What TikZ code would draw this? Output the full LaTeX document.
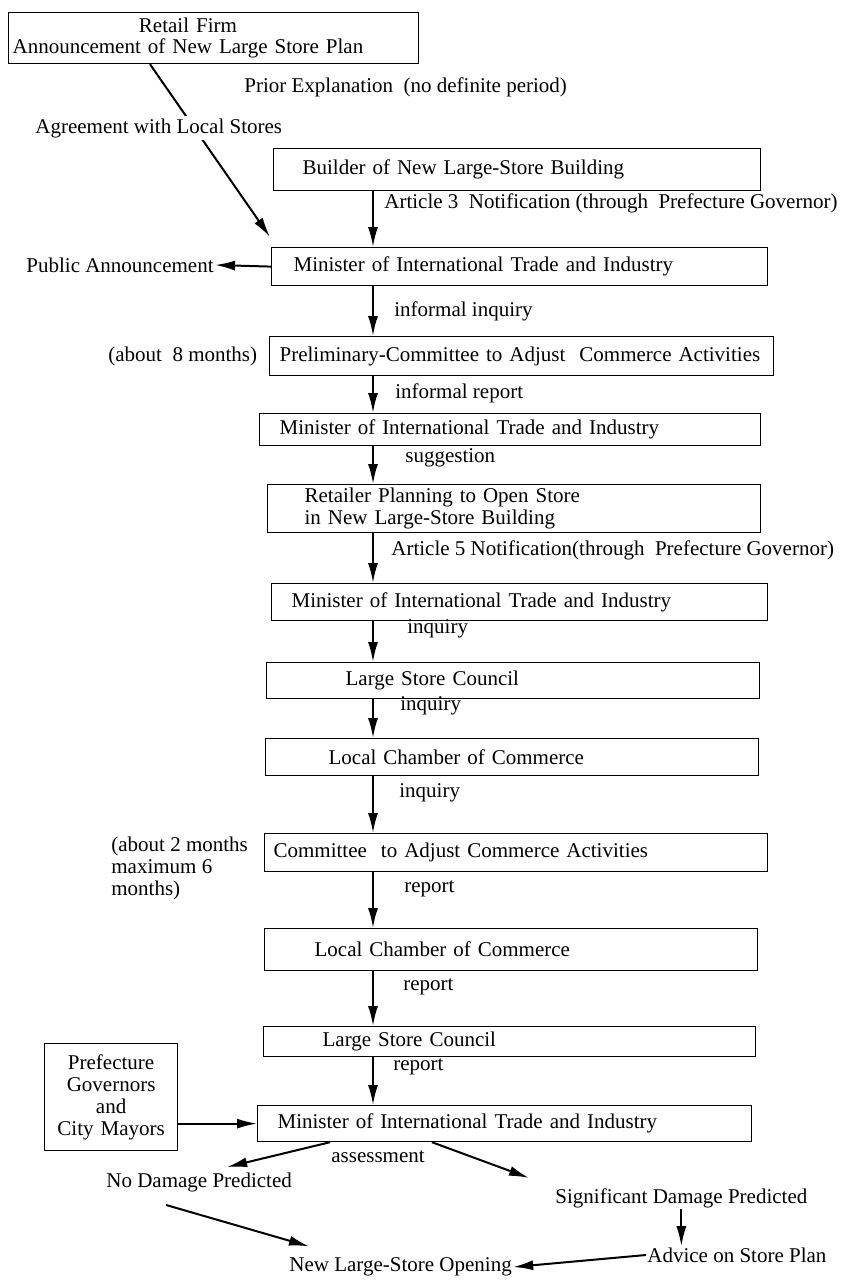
\documentclass[tikz,border=0pt]{standalone}
\usepackage{fontspec}
\setmainfont{Liberation Serif}
\usetikzlibrary{arrows.meta}
\usetikzlibrary{calc}

\begin{document}
\begin{tikzpicture}[x=1pt, y=-1pt, thick,
    every node/.style={font=\fontsize{21}{22}\selectfont},
    box/.style={draw, line width=1.2pt, anchor=north west, align=left, inner ysep=0pt},
    lbl/.style={anchor=west, inner sep=1pt},
    arr/.style={line width=2pt, -{Latex[length=20pt, width=10pt]}}]
  \useasboundingbox (0,0) rectangle (859,1280);
  \coordinate (spine) at (373,0);

  \node[box, inner xsep=4pt, text width=402pt, minimum height=51pt] (firm) at (8,12)
    {\begin{tabular}{@{}c@{}}Retail Firm\\[-1pt]Announcement of New Large Store Plan\end{tabular}};
  \node[box, inner xsep=29pt, text width=429pt, minimum height=42pt] (builder) at (273,148) {Builder of New Large-Store Building};
  \node[box, inner xsep=22pt, text width=452pt, minimum height=38pt] (min1) at (271,247) {Minister of International Trade and Industry};
  \node[box, inner xsep=10pt, text width=484pt, minimum height=39pt] (prelim) at (269,336) {Preliminary-Committee to Adjust~~Commerce Activities};
  \node[box, inner xsep=20pt, text width=461pt, minimum height=32pt] (min2) at (259,413) {Minister of International Trade and Industry};
  \node[box, inner xsep=37pt, text width=419pt, minimum height=48pt] (retailer) at (267,484) {Retailer Planning to Open Store\\in New Large-Store Building};
  \node[box, inner xsep=20pt, text width=456pt, minimum height=37pt] (min3) at (271,583) {Minister of International Trade and Industry};
  \node[box, inner xsep=79pt, text width=335pt, minimum height=36pt] (lsc1) at (266,662) {Large Store Council};
  \node[box, inner xsep=63pt, text width=367pt, minimum height=37pt] (lcc1) at (265,738) {Local Chamber of Commerce};
  \node[box, inner xsep=9pt, text width=485pt, minimum height=38pt] (committee) at (264,833) {Committee~~to Adjust Commerce Activities};
  \node[box, inner xsep=50pt, text width=393pt, minimum height=42pt] (lcc2) at (264,928) {Local Chamber of Commerce};
  \node[box, inner xsep=59pt, text width=374pt, minimum height=30pt] (lsc2) at (263,1026) {Large Store Council};
  \node[box, inner xsep=20pt, text width=454pt, minimum height=36pt] (min4) at (257,1105) {Minister of International Trade and Industry};
  \node[box, inner xsep=4pt, text width=125pt, minimum height=107pt, align=center] (pref) at (44,1043) {Prefecture\\Governors\\and\\City Mayors};

  \node[lbl] (prior) at (243,87) {Prior Explanation~~(no definite period)};
  \node[lbl] (art3) at (383,203) {Article 3~~Notification (through~~Prefecture Governor)};
  \node[lbl] (pub) at (25,265) {Public Announcement};
  \node[lbl] (infinq) at (393,311) {informal inquiry};
  \node[lbl] (months8) at (107,356) {(about~~8 months)};
  \node[lbl] (infrep) at (394,393) {informal report};
  \node[lbl] (sugg) at (404,458) {suggestion};
  \node[lbl] (art5) at (390,550) {Article 5 Notification(through~~Prefecture Governor)};
  \node[lbl] (inq1) at (406,629) {inquiry};
  \node[lbl] (inq2) at (399,706) {inquiry};
  \node[lbl] (inq3) at (398,793) {inquiry};
  \node[lbl, align=left] (months2) at (110,868) {(about 2 months\\maximum 6\\months)};
  \node[lbl] (rep1) at (403,889) {report};
  \node[lbl] (rep2) at (402,987) {report};
  \node[lbl] (rep3) at (392,1067) {report};
  \node[lbl] (assess) at (330,1157) {assessment};
  \node[lbl] (nodmg) at (105,1182) {No Damage Predicted};
  \node[lbl] (sigdmg) at (554,1198) {Significant Damage Predicted};
  \node[lbl] (advice) at (646,1255) {Advice on Store Plan};
  \node[lbl] (opening) at (288,1267) {New Large-Store Opening};

  \draw[arr] ($(firm.south west)+(142,0)$) -- ($(min1.north west)+(-1,-10)$);
  \node[lbl, fill=white, inner sep=2pt] (agree) at (33,128) {Agreement with Local Stores};

  \draw[arr] (builder.south -| spine) -- (min1.north -| spine);
  \draw[arr] (min1.west) -- (pub.east);
  \draw[arr] (min1.south -| spine) -- (prelim.north -| spine);
  \draw[arr] (prelim.south -| spine) -- (min2.north -| spine);
  \draw[arr] (min2.south -| spine) -- (retailer.north -| spine);
  \draw[arr] (retailer.south -| spine) -- (min3.north -| spine);
  \draw[arr] (min3.south -| spine) -- (lsc1.north -| spine);
  \draw[arr] (lsc1.south -| spine) -- (lcc1.north -| spine);
  \draw[arr] (lcc1.south -| spine) -- (committee.north -| spine);
  \draw[arr] (committee.south -| spine) -- (lcc2.north -| spine);
  \draw[arr] (lcc2.south -| spine) -- (lsc2.north -| spine);
  \draw[arr] (lsc2.south -| spine) -- (min4.north -| spine);
  \draw[arr] (pref.east |- min4.west) -- (min4.west);
  \draw[arr] ($(min4.south west)+(73,0)$) -- ([xshift=28pt, yshift=4pt]nodmg.north);
  \draw[arr] ($(min4.south west)+(175,0)$) -- ([xshift=-25pt, yshift=9pt]sigdmg.north west);
  \draw[arr] ([xshift=61pt, yshift=-12pt]nodmg.south west) -- ([xshift=21pt, yshift=10pt]opening.north west);
  \draw[arr] (sigdmg.south) -- (sigdmg.south |- advice.north);
  \draw[arr] (advice.west) -- (opening.east);
\end{tikzpicture}
\end{document}
